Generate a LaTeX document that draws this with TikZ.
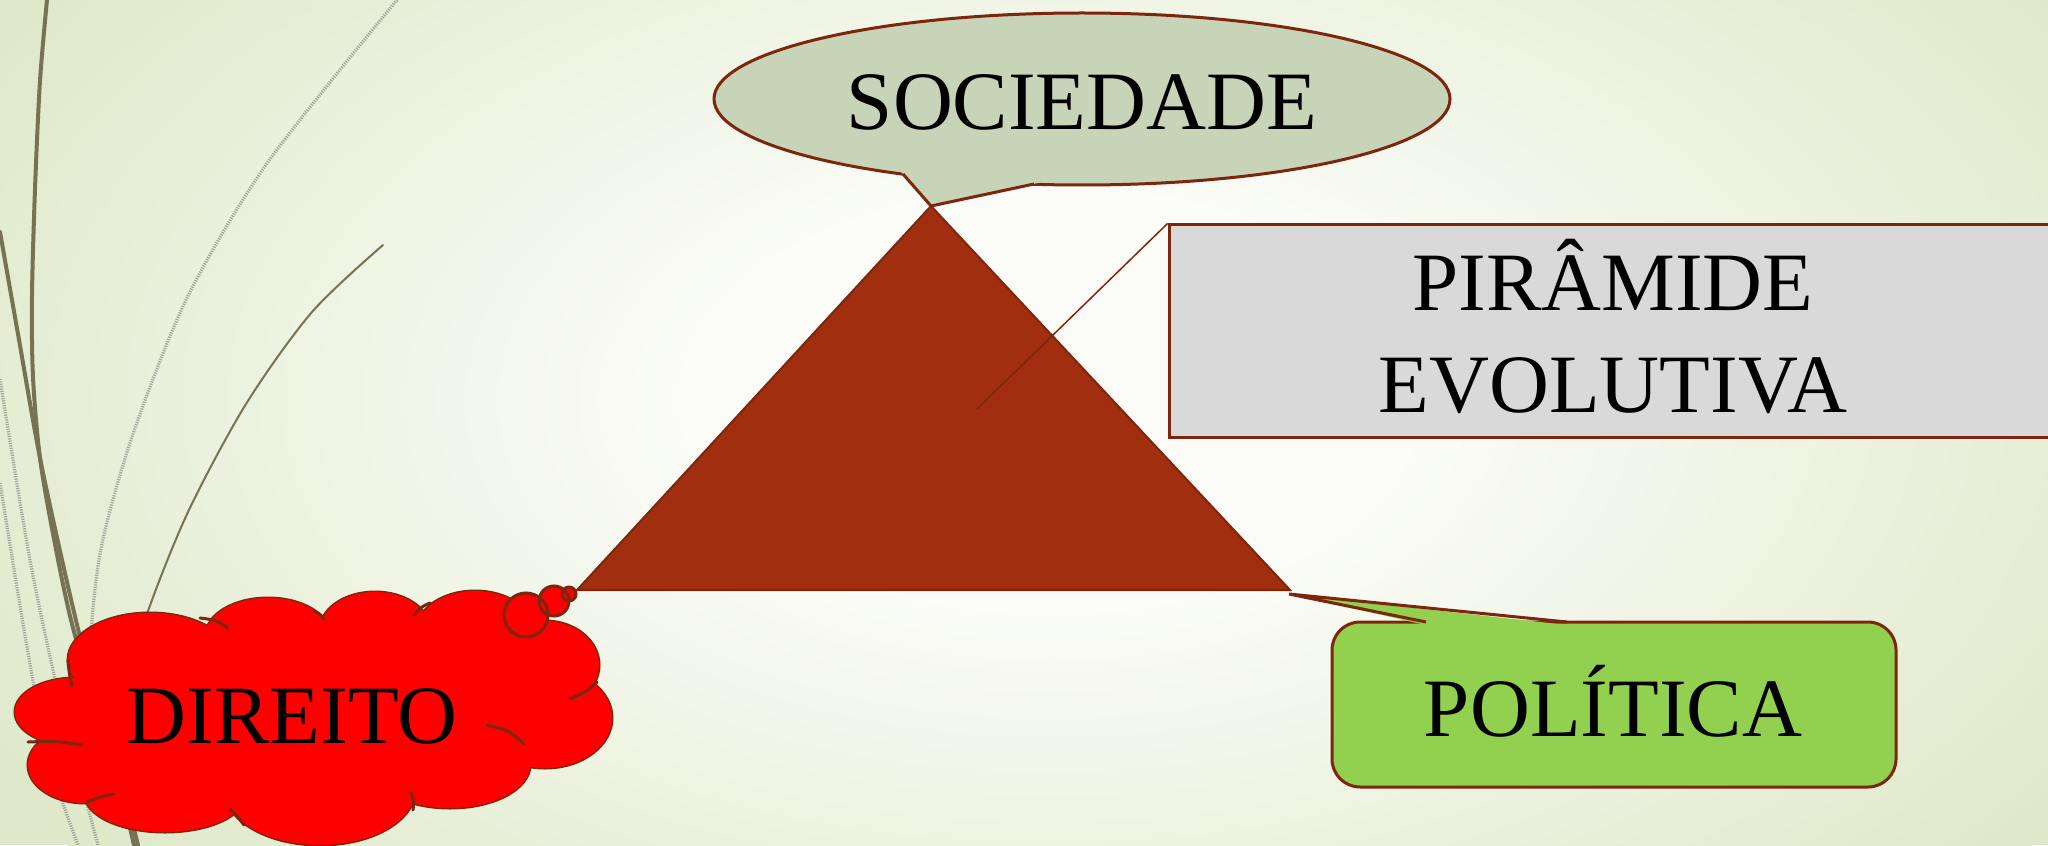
\documentclass[tikz,border=0pt]{standalone}
\usepackage{fontspec}
\setmainfont{Liberation Serif}
\usetikzlibrary{shapes.geometric}
\definecolor{bgedge}{RGB}{222,232,200}
\definecolor{bgmid}{RGB}{251,252,248}
\definecolor{wisp}{RGB}{120,114,84}
\definecolor{hatch}{RGB}{165,165,155}
\definecolor{outl}{RGB}{125,38,14}
\definecolor{tri}{RGB}{161,46,15}
\definecolor{socfill}{RGB}{200,212,184}
\definecolor{pirfill}{RGB}{217,217,217}
\definecolor{polfill}{RGB}{146,208,80}
\definecolor{cloudred}{RGB}{255,0,0}
\pgfdeclareradialshading{bgglow}{\pgfpoint{0bp}{0bp}}{color(0bp)=(bgmid); color(7bp)=(bgmid); color(25bp)=(bgedge); color(50bp)=(bgedge)}
\begin{document}
\begin{tikzpicture}[x=0.5pt,y=-0.5pt,
  outline/.style={draw=outl, line width=1.5pt},
  lbl/.style={font=\fontsize{41.5}{51}\selectfont, inner sep=0pt, text=black},
  wispthick/.style={draw=wisp, line width=2pt, line cap=round},
  wispthin/.style={draw=wisp, line width=1pt, line cap=round},
  wisphatch/.style={draw=hatch, line width=1.6pt, dash pattern=on 0.6pt off 0.6pt},
  hook/.style={draw=outl, line width=1.5pt, line cap=round},
  bubble/.style={fill=cloudred}]
\useasboundingbox (0,0) rectangle (2048,845);
\clip (0,0) rectangle (2048,845);
% background
\fill[bgedge] (0,0) rectangle (2048,845);
\shade[shading=bgglow] (1050,400) ellipse (1250 and 720);
% wisps
\draw[wisphatch] plot[smooth] coordinates {(397,0) (268,162) (188,296) (134,431) (103,539) (92,620) (88,720)};
\draw[wisphatch] plot[smooth] coordinates {(0,379) (30,560) (60,700) (98,845)};
\draw[wisphatch] plot[smooth] coordinates {(0,483) (27,647) (49,760) (78,845)};
\draw[wispthick] plot[smooth] coordinates {(47,0) (40,81) (35,189) (32,296) (33,377) (40,458) (54,539) (71,620) (94,700) (121,781) (138,845)};
\draw[wispthick] plot[smooth] coordinates {(0,232) (18,334) (40,458) (67,582) (89,673) (112,754) (134,845)};
\draw[wispthin] plot[smooth] coordinates {(383,245) (312,312) (246,404) (188,512) (147,614) (130,680)};
% triangle
\coordinate (apex) at (931,206);
\coordinate (tl) at (577,590);
\coordinate (tr) at (1290,590);
\filldraw[fill=tri, draw=outl, line width=1pt] (tl) -- (apex) -- (tr) -- cycle;
% SOCIEDADE callout
\node[ellipse, outline, fill=socfill, minimum width=368pt, minimum height=86pt, inner sep=0pt] (soc) at (1082,99) {};
\fill[socfill] (900.4,171) -- (apex) -- (1047,181) -- cycle;
\draw[outl, line width=1.5pt, line join=miter] (903,174) -- (apex) -- (1034,184);
\node[lbl, anchor=base] (soct) at (1082,130) {SOCIEDADE};
% PIRAMIDE box
\node[rectangle, outline, fill=pirfill, minimum width=444pt, minimum height=106pt, inner sep=0pt] (pir) at (1613,331) {};
\coordinate (pirtip) at (977,409);
\draw[outl, line width=0.75pt] (pir.north west) -- (pirtip);
\node[lbl, anchor=base] (pirt1) at (1613,310) {PIRÂMIDE};
\node[lbl, anchor=base] (pirt2) at (1613,412) {EVOLUTIVA};
% POLITICA callout
\node[rectangle, rounded corners=14pt, outline, fill=polfill, minimum width=282pt, minimum height=82.5pt, inner sep=0pt] (pol) at (1614,704.5) {};
\coordinate (poltip) at (1289,594);
\fill[polfill] (1426,625) -- (poltip) -- (1567,625) -- cycle;
\draw[outl, line width=1.5pt] (1426,622) -- (poltip) -- (1567,622);
\node[lbl, anchor=base] (polt) at (1613,736) {POLÍTICA};
% DIREITO cloud
\foreach \cx/\cy/\rx/\ry in {150/660/82/47, 268/635/62/37, 375/630/55/38, 475/630/58/39, 545/665/54/44, 545/718/67/50, 450/765/80/43, 320/790/95/55, 165/795/80/37, 85/765/57/38, 75/712/60/34}
  {\draw[outline, fill=cloudred] (\cx,\cy) ellipse ({\rx} and {\ry});}
\foreach \cx/\cy/\rx/\ry in {150/660/82/47, 268/635/62/37, 375/630/55/38, 475/630/58/39, 545/665/54/44, 545/718/67/50, 450/765/80/43, 320/790/95/55, 165/795/80/37, 85/765/57/38, 75/712/60/34, 320/715/230/90}
  {\fill[cloudred] (\cx,\cy) ellipse ({\rx} and {\ry});}
\draw[hook] (200,618) .. controls (216,620) .. (228,628);
\draw[hook] (314,611) .. controls (320,614) .. (324,619);
\draw[hook] (430,603) .. controls (421,607) .. (414,615);
\draw[hook] (597,682) .. controls (586,692) .. (570,699);
\draw[hook] (487,725) .. controls (508,730) .. (524,744);
\draw[hook] (411,793) .. controls (414,801) .. (413,810);
\draw[hook] (230,809) .. controls (237,816) .. (244,825);
\draw[hook] (114,794) .. controls (100,797) .. (87,802);
\draw[hook] (28,742) .. controls (55,741) .. (82,745);
\draw[hook] (68,660) .. controls (69,672) .. (72,686);
% thought bubbles
\fill[bubble] (526,615) circle (22);
\fill[bubble] (554,601) circle (15);
\fill[bubble] (569,594) circle (7);
\draw[outline] (526,615) circle (22);
\draw[outline] (554,601) circle (15);
\draw[outline] (569,594) circle (7);
\node[lbl, anchor=base] (dir) at (292,743) {DIREITO};
\end{tikzpicture}
\end{document}
